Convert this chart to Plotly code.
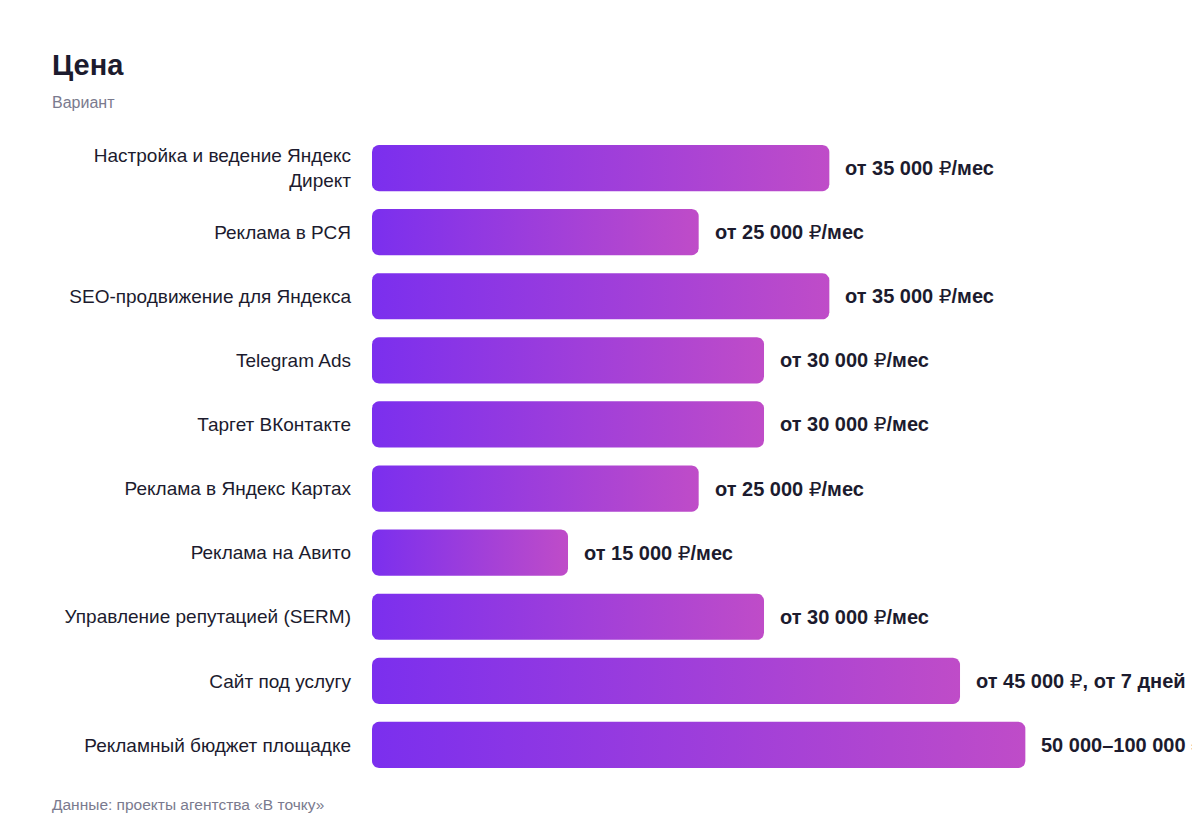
import numpy as np
import plotly.graph_objects as go

categories = [
    "Настройка и ведение Яндекс<br>Директ",
    "Реклама в РСЯ",
    "SEO-продвижение для Яндекса",
    "Telegram Ads",
    "Таргет ВКонтакте",
    "Реклама в Яндекс Картах",
    "Реклама на Авито",
    "Управление репутацией (SERM)",
    "Сайт под услугу",
    "Рекламный бюджет площадке",
]
values = [35000, 25000, 35000, 30000, 30000, 25000, 15000, 30000, 45000, 50000]
value_labels = [
    "от 35 000 ₽/мес",
    "от 25 000 ₽/мес",
    "от 35 000 ₽/мес",
    "от 30 000 ₽/мес",
    "от 30 000 ₽/мес",
    "от 25 000 ₽/мес",
    "от 15 000 ₽/мес",
    "от 30 000 ₽/мес",
    "от 45 000 ₽, от 7 дней",
    "50 000–100 000 ₽",
]
title_text = "Цена"
subtitle_text = "Вариант"
source_text = "Данные: проекты агентства «В точку»"

# layout constants (page body has an 8px margin)
OFF = 8
W, H = 1200, 840
ML, MR, MT, MB = 372 - OFF, 18, 136 - OFF, 71
PW, PH = W - ML - MR, H - MT - MB
XMAX = 62600
n = len(categories)
BAR_T = 0.72
RADIUS_PX = 7
C0, C1 = "#7B2FEE", "#BF4CC8"
DARK = "#1c1b2e"
GRAY = "#7a7a8e"
FONT = "Liberation Sans, Arial, DejaVu Sans, sans-serif"

px_x = PW / XMAX
px_y = PH / n
rx = RADIUS_PX / px_x
ry = RADIUS_PX / px_y


def rounded_rect(x0, x1, y0, y1):
    t = np.linspace(0, np.pi / 2, 8)
    xs, ys = [], []
    for cx, cy, a0 in [
        (x1 - rx, y1 - ry, 0.0),
        (x0 + rx, y1 - ry, np.pi / 2),
        (x0 + rx, y0 + ry, np.pi),
        (x1 - rx, y0 + ry, 3 * np.pi / 2),
    ]:
        xs.extend(cx + rx * np.cos(a0 + t))
        ys.extend(cy + ry * np.sin(a0 + t))
    xs.append(xs[0])
    ys.append(ys[0])
    return xs, ys


def fmt_label(s):
    # rouble sign drawn in regular weight, the rest bold
    parts = s.split("₽")
    return "₽".join(f"<b>{p}</b>" if p else "" for p in parts)


fig = go.Figure()
for i, (cat, v) in enumerate(zip(categories, values)):
    xs, ys = rounded_rect(0, v, i - BAR_T / 2, i + BAR_T / 2)
    fig.add_trace(
        go.Scatter(
            x=xs,
            y=ys,
            mode="lines",
            line=dict(width=0),
            fill="toself",
            fillgradient=dict(
                type="horizontal",
                colorscale=[[0, C0], [1, C1]],
            ),
            hoverinfo="skip",
            showlegend=False,
            name=cat,
        )
    )

annotations = []
for i, (v, lab) in enumerate(zip(values, value_labels)):
    annotations.append(
        dict(
            x=v, y=i, xref="x", yref="y",
            text=fmt_label(lab),
            showarrow=False, xanchor="left", yanchor="middle",
            xshift=14,
            font=dict(size=20, color=DARK, family=FONT),
        )
    )


def py(px):
    return (H - MB - (px - OFF)) / PH


def pxp(px):
    return (px - OFF - ML) / PW


annotations.append(dict(
    x=pxp(50), y=py(65), xref="paper", yref="paper", text=f"<b>{title_text}</b>",
    showarrow=False, xanchor="left", yanchor="middle",
    font=dict(size=29, color=DARK, family=FONT),
))
annotations.append(dict(
    x=pxp(50), y=py(102), xref="paper", yref="paper", text=subtitle_text,
    showarrow=False, xanchor="left", yanchor="middle",
    font=dict(size=16, color=GRAY, family=FONT),
))
annotations.append(dict(
    x=pxp(50), y=py(804), xref="paper", yref="paper", text=source_text,
    showarrow=False, xanchor="left", yanchor="middle",
    font=dict(size=15.5, color=GRAY, family=FONT),
))

fig.update_layout(
    width=W, height=H,
    margin=dict(l=ML, r=MR, t=MT, b=MB, autoexpand=False),
    paper_bgcolor="white", plot_bgcolor="white",
    xaxis=dict(range=[0, XMAX], visible=False, fixedrange=True),
    yaxis=dict(
        range=[n - 0.5, -0.5],
        tickmode="array",
        tickvals=list(range(n)),
        ticktext=categories,
        showgrid=False, zeroline=False, showline=False,
        ticks="", ticklabelstandoff=20,
        tickfont=dict(size=19, color=DARK, family=FONT),
    ),
    annotations=annotations,
    showlegend=False,
)

fig.write_html("out.html")
